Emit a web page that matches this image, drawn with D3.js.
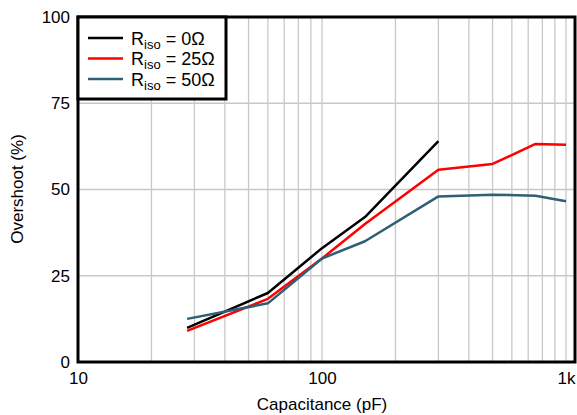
<!DOCTYPE html>
<html><head><meta charset="utf-8">
<script src="https://cdn.jsdelivr.net/npm/d3@7"></script>
<style>body{margin:0;background:#fff}svg{display:block;font-family:"Liberation Sans",Arial,sans-serif}</style>
</head><body><svg id="c" width="577" height="415"></svg>
<script>
const capsBlack = [28, 60, 100, 150, 300];
const black = [9.9, 20, 33, 42, 64];
const capsRed = [28, 60, 100, 150, 300, 500, 750, 1000];
const red = [9, 18.3, 30, 40, 55.7, 57.4, 63.2, 63];
const capsBlue = [28, 60, 100, 150, 300, 500, 750, 1000];
const blue = [12.5, 17, 30, 35, 48, 48.5, 48.2, 46.6];
const yTicks = [0, 25, 50, 75, 100];
const xTicks = [10, 100, 1000];
const xTickLabels = ["10", "100", "1k"];
const seriesNames = ["0Ω", "25Ω", "50Ω"];
const colors = ["#000000", "#ff0000", "#2e5f74"];

const svg = d3.select("#c");
const x = d3.scaleLog().domain([10, 1000]).range([78, 566]);
const y = d3.scaleLinear().domain([0, 100]).range([362, 17]);
const right = 575;

// grid
const minor = [];
for (let d = 10; d < 1000; d *= 10) for (let k = 2; k <= 10; k++) minor.push(d * k);
svg.append("g").selectAll("line").data(minor).join("line")
  .attr("x1", d => x(d)).attr("x2", d => x(d)).attr("y1", y(0)).attr("y2", y(100))
  .attr("stroke", "#c8c8c8").attr("stroke-width", 1.3);
svg.append("g").selectAll("line").data([25, 50, 75]).join("line")
  .attr("x1", x(10)).attr("x2", right).attr("y1", d => y(d)).attr("y2", d => y(d))
  .attr("stroke", "#c8c8c8").attr("stroke-width", 1.3);

// frame
svg.append("rect").attr("x", x(10)).attr("y", y(100)).attr("width", right - x(10)).attr("height", y(0) - y(100))
  .attr("fill", "none").attr("stroke", "#000").attr("stroke-width", 3);

// lines
const series = [[capsBlack, black], [capsRed, red], [capsBlue, blue]];
const line = d3.line().x(d => x(d[0])).y(d => y(d[1]));
series.forEach((s, i) => {
  const pts = s[0].map((c, j) => [c, s[1][j]]);
  svg.append("path").attr("d", line(pts)).attr("fill", "none")
    .attr("stroke", colors[i]).attr("stroke-width", 2.5).attr("stroke-linejoin", "round");
});

// axes labels
const yAx = d3.axisLeft(y).tickValues(yTicks).tickSize(0).tickPadding(8);
const gy = svg.append("g").attr("transform", `translate(${x(10)},0)`).call(yAx);
gy.select(".domain").remove();
gy.selectAll("text").attr("font-size", 17).attr("fill", "#000").attr("font-family", "Liberation Sans, Arial, sans-serif");

const xAx = d3.axisBottom(x).tickValues(xTicks).tickFormat((d, i) => xTickLabels[i]).tickSize(0).tickPadding(10);
const gx = svg.append("g").attr("transform", `translate(0,${y(0)})`).call(xAx);
gx.select(".domain").remove();
gx.selectAll("text").attr("font-size", 17).attr("fill", "#000").attr("font-family", "Liberation Sans, Arial, sans-serif");

svg.append("text").attr("x", 322).attr("y", 410).attr("text-anchor", "middle").attr("font-size", 17).text("Capacitance (pF)");
svg.append("text").attr("transform", "translate(23,189) rotate(-90)").attr("text-anchor", "middle").attr("font-size", 17).text("Overshoot (%)");

// legend
const lg = svg.append("g");
lg.append("rect").attr("x", x(10)).attr("y", y(100)).attr("width", 148).attr("height", 82)
  .attr("fill", "#fff").attr("stroke", "#000").attr("stroke-width", 3);
seriesNames.forEach((n, i) => {
  const yy = 38 + i * 20.5;
  lg.append("line").attr("x1", 88).attr("x2", 123).attr("y1", yy).attr("y2", yy)
    .attr("stroke", colors[i]).attr("stroke-width", 2.5);
  const t = lg.append("text").attr("x", 131).attr("y", yy + 6.5).attr("font-size", 18);
  t.append("tspan").text("R");
  t.append("tspan").attr("font-size", 13).attr("dy", 4).text("iso");
  t.append("tspan").attr("dy", -4).text(" = " + n);
});
</script></body></html>
